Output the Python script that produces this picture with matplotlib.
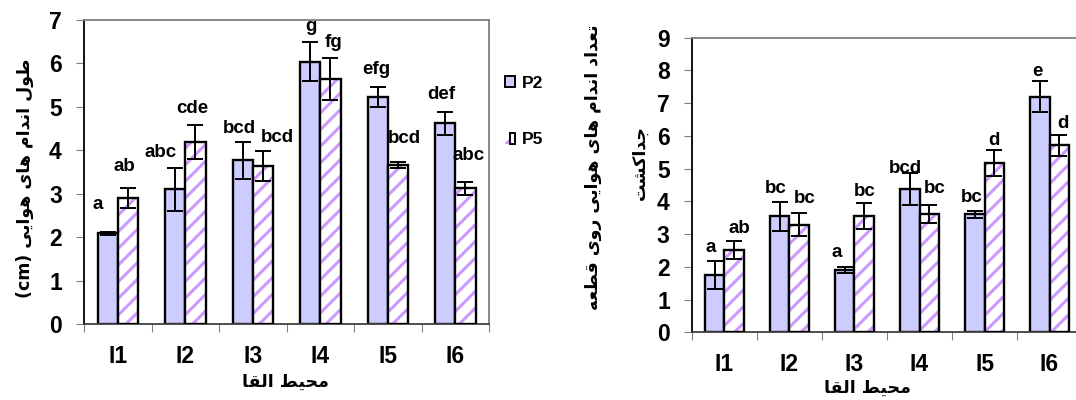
import numpy as np
import matplotlib
matplotlib.use('Agg')
import matplotlib.pyplot as plt
from matplotlib.patches import Patch
from matplotlib.legend_handler import HandlerTuple

plt.rcParams['font.family'] = ['Liberation Sans', 'DejaVu Sans']
plt.rcParams['font.weight'] = 'bold'
plt.rcParams['hatch.linewidth'] = 2.2

# data
groups = ['I1', 'I2', 'I3', 'I4', 'I5', 'I6']
series = ['P2', 'P5']

len_p2 = [2.09, 3.10, 3.77, 6.04, 5.22, 4.62]
len_p2_err = [0.03, 0.49, 0.42, 0.45, 0.23, 0.26]
len_p5 = [2.91, 4.19, 3.64, 5.64, 3.66, 3.13]
len_p5_err = [0.23, 0.40, 0.35, 0.49, 0.07, 0.15]
len_p2_let = ['a', 'abc', 'bcd', 'g', 'efg', 'def']
len_p5_let = ['ab', 'cde', 'bcd', 'fg', 'bcd', 'abc']

num_p2 = [1.75, 3.54, 1.91, 4.38, 3.60, 7.20]
num_p2_err = [0.44, 0.43, 0.09, 0.48, 0.11, 0.47]
num_p5 = [2.51, 3.28, 3.56, 3.61, 5.17, 5.71]
num_p5_err = [0.28, 0.35, 0.39, 0.27, 0.40, 0.33]
num_p2_let = ['a', 'bc', 'a', 'bcd', 'bc', 'e']
num_p5_let = ['ab', 'bc', 'bc', 'bc', 'd', 'd']

ylabel_left = 'طول اندام های هوایی'
ylabel_right_1 = 'تعداد اندام های هوایی روی قطعه'
ylabel_right_2 = 'جداکشت'
xlabel = 'محیط القا'

# hand placement of the letter labels, pixel nudges (dx, dy) from the error bar top
len_p2_nudge = [(-10, 23), (-15, 11), (-3, 9), (1, 11), (-1, 13), (-4, 13)]
len_p5_nudge = [(-4, 17), (-3, 12), (14, 9), (3, 11), (6, 19), (3, 22)]
num_p2_nudge = [(-4, 9), (-4, 9), (-8, 10), (-4, 0), (-3, 9), (-2, 5)]
num_p5_nudge = [(5, 8), (5, 10), (0, 7), (5, 12), (0, 5), (4, 7)]

# minimal arabic shaping (matplotlib has no complex text layout)
FORMS = {
    'ا': ('\uFE8D', '\uFE8E'), 'د': ('\uFEA9', '\uFEAA'), 'ر': ('\uFEAD', '\uFEAE'),
    'و': ('\uFEED', '\uFEEE'),
    'ت': ('\uFE95', '\uFE96', '\uFE97', '\uFE98'), 'ج': ('\uFE9D', '\uFE9E', '\uFE9F', '\uFEA0'),
    'ح': ('\uFEA1', '\uFEA2', '\uFEA3', '\uFEA4'), 'ش': ('\uFEB5', '\uFEB6', '\uFEB7', '\uFEB8'),
    'ط': ('\uFEC1', '\uFEC2', '\uFEC3', '\uFEC4'), 'ع': ('\uFEC9', '\uFECA', '\uFECB', '\uFECC'),
    'ق': ('\uFED5', '\uFED6', '\uFED7', '\uFED8'), 'ل': ('\uFEDD', '\uFEDE', '\uFEDF', '\uFEE0'),
    'م': ('\uFEE1', '\uFEE2', '\uFEE3', '\uFEE4'), 'ن': ('\uFEE5', '\uFEE6', '\uFEE7', '\uFEE8'),
    'ه': ('\uFEE9', '\uFEEA', '\uFEEB', '\uFEEC'), 'ی': ('\uFBFC', '\uFBFD', '\uFBFE', '\uFBFF'),
    'ک': ('\uFB8E', '\uFB8F', '\uFB90', '\uFB91'),
}

def shape(s):
    out = []
    for i, ch in enumerate(s):
        if ch not in FORMS:
            out.append(ch)
            continue
        prev = s[i - 1] if i > 0 else ''
        nxt = s[i + 1] if i + 1 < len(s) else ''
        p = prev in FORMS and len(FORMS[prev]) == 4
        n = len(FORMS[ch]) == 4 and nxt in FORMS
        f = FORMS[ch]
        out.append(f[3] if (p and n) else f[1] if p else f[2] if n else f[0])
    return ''.join(reversed(out))

P2_COL = '#ccccff'
HATCH_COL = '#cc99ff'
W = 0.3
PX = 0.72  # points per pixel at dpi 100

def draw(ax, v2, e2, v5, e5, l2, l5, n2, n5, ymax):
    x = np.arange(len(groups))
    ax.bar(x - W / 2, v2, W, color=P2_COL, edgecolor='black', linewidth=1.7, zorder=2)
    ax.bar(x + W / 2, v5, W, color='white', edgecolor=HATCH_COL, hatch='//', linewidth=0, zorder=2)
    ax.bar(x + W / 2, v5, W, fill=False, edgecolor='black', linewidth=1.7, zorder=3)
    ax.errorbar(x - W / 2, v2, yerr=e2, fmt='none', ecolor='black', elinewidth=1.4, capsize=5.5, capthick=1.4, zorder=4)
    ax.errorbar(x + W / 2, v5, yerr=e5, fmt='none', ecolor='black', elinewidth=1.4, capsize=5.5, capthick=1.4, zorder=4)
    for i in range(len(groups)):
        ax.annotate(l2[i], (x[i] - W / 2, v2[i] + e2[i]), xytext=(n2[i][0] * PX, n2[i][1] * PX),
                    textcoords='offset points', ha='center', va='baseline', fontsize=13.5, fontweight='bold', zorder=5)
        ax.annotate(l5[i], (x[i] + W / 2, v5[i] + e5[i]), xytext=(n5[i][0] * PX, n5[i][1] * PX),
                    textcoords='offset points', ha='center', va='baseline', fontsize=13.5, fontweight='bold', zorder=5)
    ax.set_xlim(-0.5, len(groups) - 0.5)
    ax.set_ylim(0, ymax)
    ax.set_yticks(range(ymax + 1))
    ax.set_xticks(np.arange(len(groups) + 1) - 0.5)
    ax.set_xticklabels([])
    ax.set_xticks(x, minor=True)
    ax.set_xticklabels(groups, minor=True)
    ax.tick_params(axis='x', which='major', length=6, color='#808080', direction='out')
    ax.tick_params(axis='x', which='minor', length=0, pad=15, labelsize=16.5)
    ax.tick_params(axis='y', length=6, color='#808080', pad=10, labelsize=16.5)
    for lab in ax.get_xticklabels(minor=True) + ax.get_yticklabels():
        lab.set_fontweight('bold')
    ax.spines['left'].set_color('black')
    ax.spines['bottom'].set_color('#404040')
    ax.spines['top'].set_color('#808080')
    ax.spines['right'].set_color('#808080')
    for s in ax.spines.values():
        s.set_linewidth(1.3)

fig = plt.figure(figsize=(10.76, 4.0), dpi=100)
ax1 = fig.add_axes([0.0781, 0.19, 0.3764, 0.76])
ax2 = fig.add_axes([0.6431, 0.169, 0.3625, 0.737])

draw(ax1, len_p2, len_p2_err, len_p5, len_p5_err, len_p2_let, len_p5_let, len_p2_nudge, len_p5_nudge, 7)
draw(ax2, num_p2, num_p2_err, num_p5, num_p5_err, num_p2_let, num_p5_let, num_p2_nudge, num_p5_nudge, 9)

h2 = Patch(facecolor=P2_COL, edgecolor='black', linewidth=1.4)
h5a = Patch(facecolor='white', edgecolor=HATCH_COL, hatch='//', linewidth=0)
h5b = Patch(fill=False, edgecolor='black', linewidth=1.4)
fig.legend([h2, (h5a, h5b)], series, loc='upper left', bbox_to_anchor=(489 / 1076, 1 - 60 / 400),
           frameon=False, handlelength=0.6, handleheight=0.6, handletextpad=0.4, labelspacing=2.4,
           prop={'weight': 'bold', 'size': 12.5},
           handler_map={tuple: HandlerTuple(ndivide=None, pad=0)})

afont = {'family': ['DejaVu Sans'], 'size': 12.5, 'weight': 'bold'}
fig.text(25 / 1076, 1 - 178 / 400, '(cm) ' + shape(ylabel_left), rotation=90, ha='center', va='center', **afont)
fig.text(593 / 1076, 1 - 167 / 400, shape(ylabel_right_1), rotation=90, ha='center', va='center', **afont)
fig.text(640 / 1076, 1 - 163 / 400, shape(ylabel_right_2), rotation=90, ha='center', va='center', **afont)
fig.text(285 / 1076, 1 - 382 / 400, shape(xlabel), ha='center', va='center', **afont)
fig.text(867 / 1076, 1 - 388 / 400, shape(xlabel), ha='center', va='center', **afont)

fig.savefig('out.png', dpi=100)
